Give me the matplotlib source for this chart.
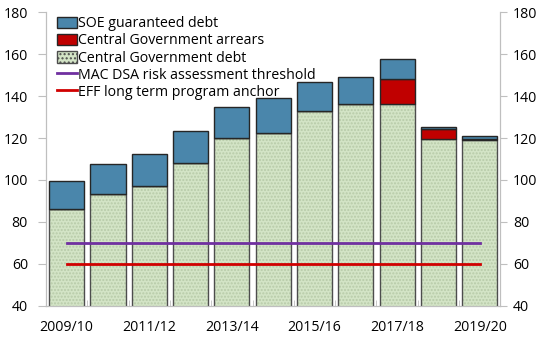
import matplotlib.pyplot as plt
import numpy as np
from matplotlib.patches import Patch
from matplotlib.lines import Line2D

# ---------------------------------------------
#  Data (percent of GDP)
# ---------------------------------------------
years = ["2009/10", "2010/11", "2011/12", "2012/13", "2013/14", "2014/15",
         "2015/16", "2016/17", "2017/18", "2018/19", "2019/20"]
central_gov_debt = [86.2, 93.5, 97.3, 108.0, 120.0, 122.6, 132.7, 136.4, 136.4, 119.7, 119.0]
central_gov_arrears = [0, 0, 0, 0, 0, 0, 0, 0, 11.9, 4.8, 0.5]
soe_guaranteed = [13.5, 14.3, 15.1, 15.3, 14.8, 16.4, 14.0, 12.8, 9.5, 0.9, 1.3]
mac_dsa_threshold = 70
eff_anchor = 60

plt.rcParams['font.family'] = ['Open Sans', 'DejaVu Sans']
plt.rcParams['font.size'] = 10.2

fig = plt.figure(figsize=(5.41, 3.39), dpi=100)
ax = fig.add_axes([0.085, 0.098, 0.840, 0.866])

x = np.arange(len(years))
w = 0.85
green = '#d3e4c6'
edge = '#262626'

# green base with dotted texture, then outline
ax.bar(x, central_gov_debt, w, color=green, linewidth=0, zorder=2)
ax.bar(x, central_gov_debt, w, color='none', edgecolor='#b7caa8', hatch='.....',
       linewidth=0, zorder=2)
ax.bar(x, central_gov_debt, w, color='none', edgecolor='#4d4d4d', linewidth=1.0, zorder=3)

arr_bottom = np.array(central_gov_debt)
ax.bar(x, central_gov_arrears, w, bottom=arr_bottom, color='#c00000',
       edgecolor=edge, linewidth=1.0, zorder=3)
soe_bottom = arr_bottom + np.array(central_gov_arrears)
ax.bar(x, soe_guaranteed, w, bottom=soe_bottom, color='#4a86ab',
       edgecolor=edge, linewidth=1.0, zorder=3)

ax.plot([x[0], x[-1]], [mac_dsa_threshold] * 2, color='#7030a0', lw=2, zorder=4)
ax.plot([x[0], x[-1]], [eff_anchor] * 2, color='#d00000', lw=2, zorder=4)

ax.set_xlim(-0.5, len(years) - 0.5)
ax.set_ylim(40, 180)
ax.set_yticks(range(40, 181, 20))

# category labels on every other year, small ticks between bars
ax.set_xticks(x[::2])
ax.set_xticklabels(years[::2])
ax.set_xticks(np.arange(-0.5, len(years), 1), minor=True)
ax.tick_params(axis='x', which='major', length=0, pad=10)
ax.tick_params(axis='x', which='minor', direction='in', length=4, color='#bfbfbf')
ax.tick_params(axis='y', direction='out', length=6, color='#bfbfbf', pad=7)

ax2 = ax.twinx()
ax2.set_ylim(40, 180)
ax2.set_yticks(range(40, 181, 20))
ax2.tick_params(axis='y', direction='out', length=5, color='#bfbfbf', pad=4)

for a in (ax, ax2):
    for s in a.spines.values():
        s.set_color('#bfbfbf')
ax.spines['top'].set_visible(False)
ax2.spines['top'].set_visible(False)

# legend entries drawn as proxies, ordered top to bottom
handles = [
    Patch(facecolor='#4a86ab', edgecolor=edge, linewidth=1.0),
    Patch(facecolor='#c00000', edgecolor=edge, linewidth=1.0),
    Patch(facecolor=green, edgecolor='#4d4d4d', linewidth=1.0, hatch='....'),
    Line2D([0], [0], color='#7030a0', lw=2),
    Line2D([0], [0], color='#d00000', lw=2),
]
labels = ["SOE guaranteed debt", "Central Government arrears", "Central Government debt",
          "MAC DSA risk assessment threshold", "EFF long term program anchor"]
ax.legend(handles, labels, loc='upper left', bbox_to_anchor=(0.005, 1.015),
          frameon=False, handlelength=1.4, handleheight=0.9, handletextpad=0.1,
          labelspacing=0.15, borderaxespad=0.2)

fig.savefig('out.png', dpi=100)
